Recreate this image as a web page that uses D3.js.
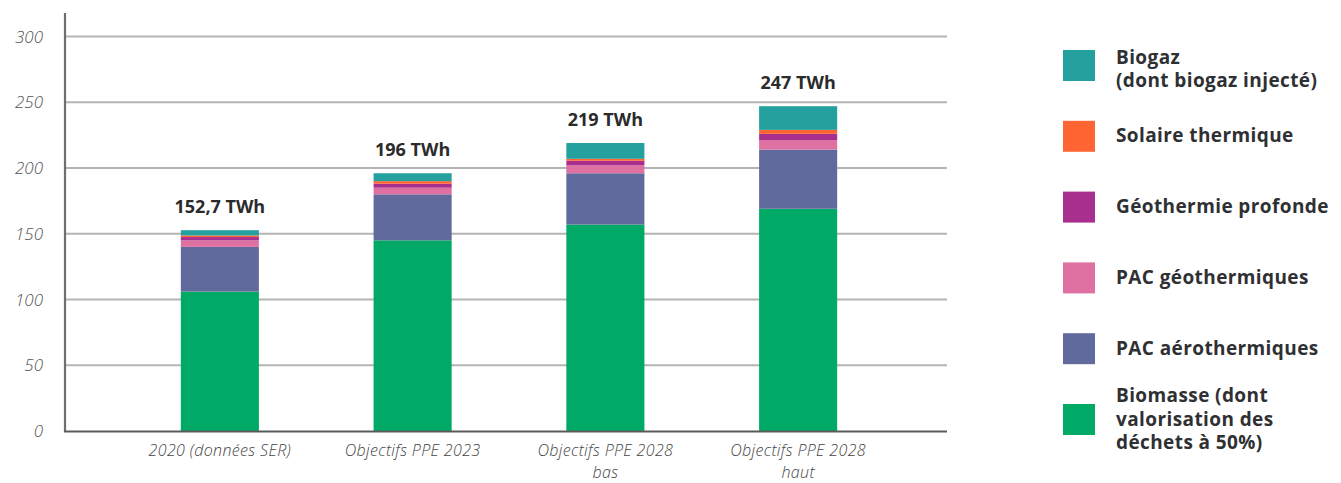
<!DOCTYPE html>
<html lang="fr">
<head>
<meta charset="utf-8">
<script src="https://cdn.jsdelivr.net/npm/d3@7"></script>
<style>
  html, body { margin: 0; padding: 0; background: #fff; }
  svg { display: block; }
  .tick-y { font-family: "Open Sans", Lato, sans-serif; font-style: italic; font-weight: 300; font-size: 17px; fill: #555; }
  .tick-x { font-family: "Open Sans", Lato, sans-serif; font-style: italic; font-weight: 300; font-size: 16px; fill: #444; letter-spacing: 0.35px; }
  .total { font-family: "Open Sans", Lato, sans-serif; font-weight: 700; font-size: 18px; fill: #2b2b2b; }
  .legend { font-family: "Open Sans", Lato, sans-serif; font-weight: 700; font-size: 19px; fill: #2f3033; letter-spacing: 0.4px; }
</style>
</head>
<body>
<svg id="chart" width="1341" height="483"></svg>
<script>
// Scénarios de production de chaleur renouvelable (TWh)
const categories = [
  ["2020 (données SER)"],
  ["Objectifs PPE 2023"],
  ["Objectifs PPE 2028", "bas"],
  ["Objectifs PPE 2028", "haut"]
];
const totalLabels = ["152,7 TWh", "196 TWh", "219 TWh", "247 TWh"];

// Séries empilées, de bas en haut
const seriesNames = [
  "Biomasse (dont valorisation des déchets à 50%)",
  "PAC aérothermiques",
  "PAC géothermiques",
  "Géothermie profonde",
  "Solaire thermique",
  "Biogaz (dont biogaz injecté)"
];
const biomasse   = [106, 145, 157, 169];
const pacAero    = [34, 35, 39, 45];
const pacGeo     = [5, 5, 6, 7];
const geoProf    = [2.5, 3, 3.5, 5];
const solaire    = [1.2, 2, 1.5, 3];
const biogaz     = [4, 6, 12, 18];
const seriesValues = [biomasse, pacAero, pacGeo, geoProf, solaire, biogaz];
const colors = ["#00aa66", "#616a9c", "#df71a2", "#a92f8f", "#ff6533", "#24a09f"];

// Légende, de haut en bas
const legendLines = [
  ["Biogaz", "(dont biogaz injecté)"],
  ["Solaire thermique"],
  ["Géothermie profonde"],
  ["PAC géothermiques"],
  ["PAC aérothermiques"],
  ["Biomasse (dont", "valorisation des", "déchets à 50%)"]
];
const legendColors = ["#24a09f", "#ff6533", "#a92f8f", "#df71a2", "#616a9c", "#00aa66"];

const yTicks = [0, 50, 100, 150, 200, 250, 300];

const svg = d3.select("#chart");
const axisX0 = 65, axisX1 = 947, axisTop = 13;

const y = d3.scaleLinear().domain([0, 300]).range([431, 36.5]);
const x = d3.scaleBand()
  .domain(d3.range(categories.length))
  .range([123, 895])
  .paddingInner(0.595)
  .paddingOuter(0.3);

// Lignes de grille
svg.append("g")
  .selectAll("line")
  .data(yTicks.filter(d => d > 0))
  .join("line")
  .attr("x1", axisX0).attr("x2", axisX1)
  .attr("y1", d => y(d)).attr("y2", d => y(d))
  .attr("stroke", "#b4b4b4").attr("stroke-width", 1.8);

// Étiquettes de l'axe vertical
svg.append("g")
  .selectAll("text")
  .data(yTicks)
  .join("text")
  .attr("class", "tick-y")
  .attr("x", 43)
  .attr("y", d => y(d) + 6)
  .attr("text-anchor", "end")
  .text(d => d);

// Barres empilées
const table = categories.map((c, i) => {
  const row = { idx: i };
  seriesNames.forEach((s, k) => { row[s] = seriesValues[k][i]; });
  return row;
});
const stack = d3.stack().keys(seriesNames)(table);

svg.append("g")
  .selectAll("g")
  .data(stack)
  .join("g")
  .attr("fill", (d, k) => colors[k])
  .selectAll("rect")
  .data(d => d)
  .join("rect")
  .attr("x", d => x(d.data.idx))
  .attr("width", x.bandwidth())
  .attr("y", d => y(d[1]))
  .attr("height", d => y(d[0]) - y(d[1]));

// Totaux au-dessus des barres
const totals = categories.map((c, i) => d3.sum(seriesValues, s => s[i]));
svg.append("g")
  .selectAll("text")
  .data(totals)
  .join("text")
  .attr("class", "total")
  .attr("x", (d, i) => x(i) + x.bandwidth() / 2)
  .attr("y", d => y(d) - 17)
  .attr("text-anchor", "middle")
  .text((d, i) => totalLabels[i]);

// Axes
svg.append("line")
  .attr("x1", axisX0).attr("x2", axisX0)
  .attr("y1", axisTop).attr("y2", 432)
  .attr("stroke", "#6e6e6e").attr("stroke-width", 2.2);
svg.append("line")
  .attr("x1", axisX0 - 1).attr("x2", axisX1)
  .attr("y1", 431.5).attr("y2", 431.5)
  .attr("stroke", "#5a5a5a").attr("stroke-width", 2.2);

// Libellés des catégories
const xl = svg.append("g")
  .selectAll("text")
  .data(categories)
  .join("text")
  .attr("class", "tick-x")
  .attr("text-anchor", "middle")
  .attr("x", (d, i) => x(i) + x.bandwidth() / 2)
  .attr("y", 456);
xl.selectAll("tspan")
  .data(d => d)
  .join("tspan")
  .attr("x", function () { return d3.select(this.parentNode).attr("x"); })
  .attr("dy", (d, j) => j === 0 ? 0 : 21.5)
  .text(d => d);

// Légende
const lineH = 23.5;
const leg = svg.append("g")
  .selectAll("g")
  .data(legendLines)
  .join("g")
  .attr("transform", (d, i) => `translate(1063, ${50 + i * 70.8})`);
leg.append("rect")
  .attr("width", 32).attr("height", 31)
  .attr("fill", (d, i) => legendColors[i]);
leg.append("text")
  .attr("class", "legend")
  .attr("x", 53)
  .attr("y", d => 15.5 - (d.length - 1) * lineH / 2 + 6 + (d.length === 2 ? 4 : 0))
  .selectAll("tspan")
  .data(d => d)
  .join("tspan")
  .attr("x", 53)
  .attr("dy", (d, j) => j === 0 ? 0 : lineH)
  .text(d => d);
</script>
</body>
</html>
